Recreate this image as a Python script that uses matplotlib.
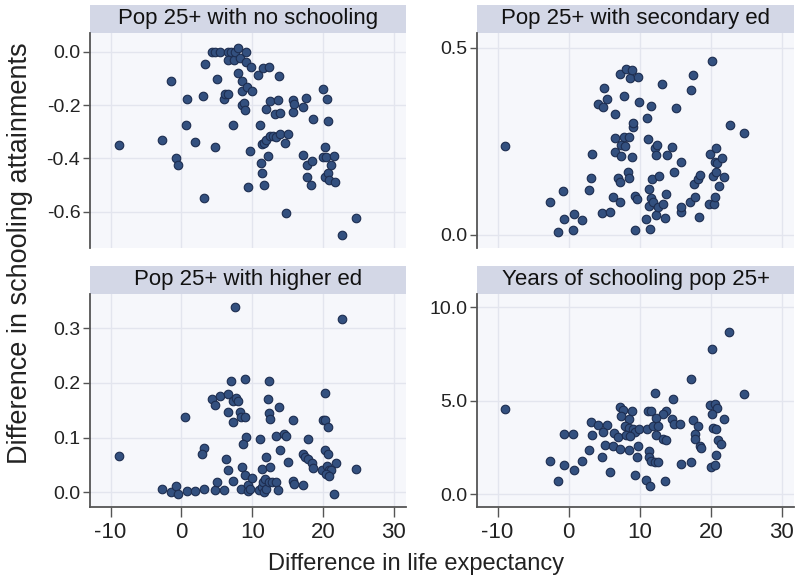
import matplotlib
matplotlib.use("Agg")
import matplotlib.pyplot as plt
from matplotlib.patches import Rectangle
from matplotlib.ticker import FormatStrFormatter

# Difference in life expectancy (x) vs difference in schooling outcome (y), per panel
noschool_x = [-8.78, -2.68, -1.46, -0.70, -0.52, 0.61, 0.85, 1.92, 3.0, 3.24, 3.33, 4.37,
              4.74, 5.02, 4.74, 5.4, 5.96, 6.2, 6.57, 6.62, 7.0, 6.53, 7.28, 7.46, 7.56,
              7.93, 7.93, 8.22, 8.5, 8.5, 8.5, 8.87, 8.97, 9.06, 9.06, 9.25, 9.44, 9.62,
              9.81, 10.0, 10.85, 11.03, 11.22, 11.31, 11.31, 11.5, 11.69, 11.69, 11.88,
              11.97, 12.25, 12.35, 12.44, 12.54, 12.91, 13.19, 13.38, 13.66, 13.76, 13.85,
              13.85, 14.6, 14.79, 15.07, 15.82, 15.82, 15.92, 17.14, 17.23, 17.6, 17.79,
              17.79, 18.36, 18.45, 18.64, 19.95, 20.23, 20.05, 20.42, 20.33, 20.52, 20.7,
              20.7, 20.8, 21.17, 21.55, 21.74, 22.68, 24.65]
noschool_y = [-0.35, -0.331, -0.111, -0.40, -0.426, -0.276, -0.176, -0.338, -0.166, -0.548,
              -0.045, 0.0, 0.0, -0.101, -0.356, -0.002, -0.176, -0.159, -0.159, 0.0, 0.0,
              -0.031, -0.276, -0.031, 0.0, 0.012, -0.079, -0.024, -0.11, -0.148, -0.2,
              -0.194, -0.219, 0.0, -0.04, -0.134, -0.506, -0.371, -0.059, -0.148, -0.088,
              -0.274, -0.419, -0.454, -0.346, -0.062, -0.341, -0.499, -0.214, -0.331,
              -0.391, -0.056, -0.316, -0.186, -0.316, -0.234, -0.319, -0.181, -0.091,
              -0.231, -0.309, -0.344, -0.604, -0.309, -0.181, -0.226, -0.196, -0.206,
              -0.389, -0.175, -0.424, -0.469, -0.5, -0.409, -0.251, -0.141, -0.359,
              -0.396, -0.396, -0.469, -0.176, -0.259, -0.456, -0.481, -0.424, -0.391,
              -0.488, -0.686, -0.623]

secondary_x = [-8.92, -2.68, -1.5, -0.75, -0.66, 0.56, 0.8, 1.83, 2.82, 3.1, 3.29, 4.18,
               4.65, 4.79, 5.02, 5.35, 5.82, 6.2, 6.48, 6.57, 6.57, 6.9, 7.18, 7.23, 7.23,
               7.32, 7.37, 7.79, 7.84, 7.89, 8.12, 8.31, 8.45, 8.5, 8.59, 8.87, 8.97, 9.01,
               9.11, 9.3, 9.34, 9.58, 9.81, 9.95, 10.85, 11.08, 11.13, 11.27, 11.36, 11.41,
               11.55, 11.64, 11.78, 11.92, 12.11, 12.3, 12.35, 12.44, 12.54, 12.68, 13.15,
               13.24, 13.57, 13.71, 13.8, 14.6, 14.79, 15.07, 15.82, 15.82, 15.87, 17.09,
               17.14, 17.51, 17.7, 17.84, 18.17, 18.36, 18.54, 19.81, 19.91, 20.14, 20.33,
               20.47, 20.56, 20.56, 20.66, 20.75, 20.8, 21.13, 21.5, 21.83, 22.63, 24.65]
secondary_y = [0.236, 0.089, 0.008, 0.117, 0.043, 0.014, 0.056, 0.039, 0.12, 0.151, 0.217,
               0.349, 0.058, 0.341, 0.393, 0.362, 0.06, 0.1, 0.258, 0.323, 0.222, 0.151,
               0.089, 0.429, 0.14, 0.239, 0.211, 0.261, 0.371, 0.236, 0.442, 0.168, 0.261,
               0.153, 0.419, 0.209, 0.44, 0.288, 0.298, 0.014, 0.104, 0.097, 0.421, 0.355,
               0.043, 0.313, 0.255, 0.077, 0.123, 0.016, 0.099, 0.345, 0.149, 0.089, 0.233,
               0.212, 0.053, 0.24, 0.074, 0.158, 0.402, 0.083, 0.046, 0.108, 0.213, 0.235,
               0.169, 0.339, 0.194, 0.06, 0.075, 0.089, 0.388, 0.427, 0.135, 0.101, 0.149,
               0.047, 0.161, 0.083, 0.217, 0.463, 0.158, 0.083, 0.1, 0.194, 0.168, 0.231,
               0.193, 0.131, 0.205, 0.155, 0.294, 0.271]

higher_x = [7.51, 22.68, 6.95, 9.01, 12.35, 20.23, 4.27, 4.74, 5.45, 6.53, 7.28, 7.65, 7.93,
            12.25, 13.71, 6.57, 8.22, 8.4, 8.97, 7.28, 12.35, 12.54, 0.56, 15.82, 20.05,
            20.33, 20.7, 9.06, 8.69, 11.03, 13.29, 14.55, 14.79, 17.84, 3.24, 2.96, -8.78,
            13.85, 17.23, 17.51, 17.89, 18.45, 18.54, 20.33, 20.7, 21.83, 24.65, 6.24,
            11.88, 15.07, 6.62, 8.59, 11.31, 12.44, 19.86, 20.61, 20.89, 21.17, 20.42,
            20.8, -2.68, -1.46, -0.7, -0.52, 0.8, 1.92, 3.24, 4.74, 5.02, 5.96, 7.28, 8.4,
            8.97, 9.44, 9.44, 10.0, 9.72, 10.94, 11.31, 11.5, 11.78, 11.69, 11.97, 12.35,
            12.72, 13.29, 13.66, 15.82, 15.92, 17.23, 21.55]
higher_y = [0.338, 0.316, 0.204, 0.207, 0.204, 0.182, 0.170, 0.160, 0.176, 0.18, 0.166,
            0.172, 0.166, 0.171, 0.155, 0.146, 0.146, 0.138, 0.138, 0.129, 0.144, 0.134,
            0.138, 0.132, 0.132, 0.132, 0.119, 0.101, 0.088, 0.098, 0.102, 0.107, 0.102,
            0.098, 0.080, 0.070, 0.066, 0.078, 0.070, 0.065, 0.061, 0.054, 0.044, 0.077,
            0.07, 0.053, 0.043, 0.061, 0.064, 0.056, 0.040, 0.046, 0.043, 0.046, 0.040,
            0.048, 0.040, 0.040, 0.034, 0.029, 0.0055, 0.0006, 0.0116, -0.003, 0.003,
            0.003, 0.0067, 0.0043, 0.019, 0.0043, 0.020, 0.0055, 0.031, 0.0134, 0.002,
            0.026, 0.0055, 0.0043, 0.009, 0.019, 0.024, 0.0006, 0.0067, 0.019, 0.019,
            0.019, 0.0043, 0.021, 0.015, 0.0128, -0.0037]

years_x = [22.58, 20.14, 17.14, 24.65, 12.16, 14.74, -8.92, 19.91, 20.61, 20.8, 7.28, 7.7,
           8.97, 11.13, 11.6, 13.76, 13.24, 7.42, 8.54, 12.35, 20.23, 3.15, 14.6, 17.51,
           21.83, 4.13, 5.35, 14.88, 15.68, 18.26, -0.7, 0.56, 3.29, 4.84, 6.43, 6.95,
           7.98, 8.45, 9.01, 9.39, 9.95, 8.08, 8.69, 11.08, 11.83, 12.54, 12.3, 17.75,
           20.28, 20.75, 13.24, 13.71, 17.84, 21.03, 21.46, 5.12, 6.2, 9.76, 18.5, 2.86,
           7.23, 8.54, 11.36, 18.59, 4.69, 9.58, 11.27, 20.7, -2.68, 1.88, 11.64, 12.11,
           12.58, 15.82, 17.14, -0.66, 0.8, 20.0, 20.56, 5.82, 9.34, -1.5, 10.85, 13.62,
           11.46]
years_y = [8.66, 7.77, 6.16, 5.34, 5.41, 5.07, 4.55, 4.79, 4.82, 4.59, 4.68, 4.5, 4.48,
           4.46, 4.46, 4.48, 4.27, 4.2, 4.05, 4.07, 4.27, 3.89, 4.02, 3.98, 4.02, 3.68,
           3.73, 3.77, 3.77, 3.64, 3.23, 3.23, 3.18, 3.32, 3.30, 3.07, 3.66, 3.52, 3.48,
           3.32, 3.48, 3.16, 3.14, 3.5, 3.66, 3.64, 3.16, 3.23, 3.52, 3.48, 2.98, 2.89,
           2.98, 2.88, 2.71, 2.66, 2.57, 2.57, 2.57, 2.38, 2.41, 2.39, 2.34, 2.45, 1.98,
           2.02, 2.0, 2.09, 1.79, 1.8, 1.77, 1.71, 1.71, 1.64, 1.70, 1.55, 1.32, 1.46,
           1.55, 1.18, 1.02, 0.71, 0.79, 0.71, 0.46]

titles = ["Pop 25+ with no schooling", "Pop 25+ with secondary ed",
          "Pop 25+ with higher ed", "Years of schooling pop 25+"]
yticks = [[0.0, -0.2, -0.4, -0.6], [0.0, 0.5], [0.0, 0.1, 0.2, 0.3], [0.0, 5.0, 10.0]]
ylims = [(-0.736, 0.07), (-0.035, 0.539), (-0.027, 0.3625), (-0.68, 10.71)]
xticks = [-10, 0, 10, 20, 30]

W, H = 795, 579
plt.rcParams["font.family"] = ["Liberation Sans", "DejaVu Sans"]
plt.rcParams["axes.unicode_minus"] = False

fig = plt.figure(figsize=(W / 100, H / 100), dpi=100)
fig.patch.set_facecolor("white")

# panel boxes in pixels: (left, right, top, bottom)
boxes = [(90, 406, 33, 248), (477, 794, 33, 248),
         (90, 406, 294, 507), (477, 794, 294, 507)]
header_px = 28.5

data = [(noschool_x, noschool_y), (secondary_x, secondary_y),
        (higher_x, higher_y), (years_x, years_y)]

for i, (l, r, t, b) in enumerate(boxes):
    ax = fig.add_axes([l / W, 1 - b / H, (r - l) / W, (b - t) / H])
    ax.set_facecolor("#f6f7fb")
    ax.set_xlim(-12.9, 31.7)
    ax.set_ylim(*ylims[i])
    ax.set_xticks(xticks)
    ax.set_yticks(yticks[i])
    ax.yaxis.set_major_formatter(FormatStrFormatter("%.1f"))
    ax.grid(True, color="#e3e5ee", lw=1.0)
    ax.set_axisbelow(True)
    for s in ("top", "right"):
        ax.spines[s].set_visible(False)
    ax.spines["left"].set_color("#555555")
    ax.spines["left"].set_linewidth(1.3)
    ax.tick_params(axis="y", direction="out", length=5, width=1.0, color="#555555",
                   labelsize=14, pad=2, labelcolor="#222222")
    if i < 2:
        ax.spines["bottom"].set_visible(False)
        ax.tick_params(axis="x", length=0, labelbottom=False)
    else:
        ax.spines["bottom"].set_color("#555555")
        ax.spines["bottom"].set_linewidth(1.3)
        ax.tick_params(axis="x", direction="out", length=7, width=1.0, color="#555555",
                       labelsize=16, pad=4, labelcolor="#222222")

    x, y = data[i]
    ax.scatter(x, y, s=38, color="#33507f", edgecolor="#1d2d50", linewidth=0.8,
               zorder=3, clip_on=False)

    # strip header above each panel
    hh = header_px / (b - t)
    ax.add_patch(Rectangle((0, 1), 1, hh, transform=ax.transAxes, clip_on=False,
                           facecolor="#d3d7e6", edgecolor="none"))
    ax.text(0.5, 1 + hh / 2, titles[i], transform=ax.transAxes, ha="center",
            va="center", fontsize=16, color="#111111")

fig.text(416 / W, 1 - 564 / H, "Difference in life expectancy", ha="center", va="center",
         fontsize=17, color="#222222")
fig.text(20 / W, 1 - 253 / H, "Difference in schooling attainments", ha="center",
         va="center", rotation=90, fontsize=19.5, color="#222222")

fig.savefig("out.png", dpi=100)
